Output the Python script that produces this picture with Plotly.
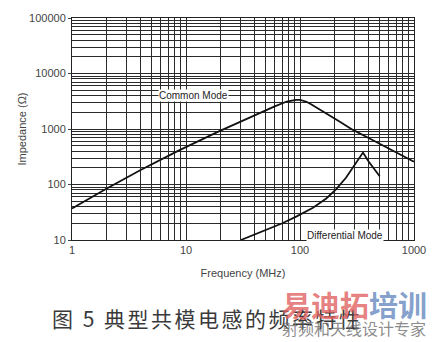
import numpy as np
import plotly.graph_objects as go

# Common mode impedance curve (MHz, Ohm)
cm_freq = [1, 2, 4, 8.6, 19, 40, 60, 76.6, 85, 92, 100, 107, 114, 125, 140, 170, 220, 289, 400, 600, 1000]
cm_imp = [37, 84, 182, 408, 885, 1770, 2550, 3130, 3280, 3340, 3340, 3260, 3100, 2800, 2450, 1900, 1380, 973, 690, 440, 258]

# Differential mode impedance curve (MHz, Ohm)
dm_freq = [30.3, 40, 51.5, 70, 93.5, 130, 170, 207, 253, 298, 330, 357, 400, 450, 500]
dm_imp = [10, 12.6, 15.5, 20, 26.6, 38, 56, 82, 132, 212, 290, 376, 260, 190, 141]

x_ticks = [1, 10, 100, 1000]
y_ticks = [10, 100, 1000, 10000, 100000]

caption = "图 5 典型共模电感的频率特性"

fig = go.Figure()
fig.add_trace(go.Scatter(x=cm_freq, y=cm_imp, mode="lines",
                         line=dict(color="#111111", width=1.8),
                         showlegend=False, hoverinfo="skip"))
fig.add_trace(go.Scatter(x=dm_freq, y=dm_imp, mode="lines",
                         line=dict(color="#111111", width=1.8),
                         showlegend=False, hoverinfo="skip"))

grid_col = "#2a2a2a"
fig.update_xaxes(type="log", range=[0, 3], tickvals=x_ticks, ticktext=[str(v) for v in x_ticks],
                 showgrid=True, gridcolor=grid_col, gridwidth=1,
                 minor=dict(dtick="D1", showgrid=True, gridcolor=grid_col, gridwidth=1, ticks=""),
                 showline=True, linecolor="#222", linewidth=1, mirror=True,
                 ticks="", tickfont=dict(family="Liberation Sans, Arial", size=11, color="#444"),
                 title=dict(text="Frequency (MHz)", font=dict(family="Liberation Sans, Arial", size=11, color="#444"),
                            standoff=14),
                 zeroline=False)
fig.update_yaxes(type="log", range=[1, 5], tickvals=y_ticks, ticktext=[str(v) for v in y_ticks],
                 showgrid=True, gridcolor=grid_col, gridwidth=1,
                 minor=dict(dtick="D1", showgrid=True, gridcolor=grid_col, gridwidth=1, ticks=""),
                 showline=True, linecolor="#222", linewidth=1, mirror=True,
                 ticks="outside", ticklen=3, tickcolor="#444",
                 tickfont=dict(family="Liberation Sans, Arial", size=11, color="#444"),
                 title=dict(text="Impedance (Ω)", font=dict(family="Liberation Sans, Arial", size=11, color="#444"),
                            standoff=0),
                 zeroline=False)

fig.add_annotation(x=np.log10(11.6), y=np.log10(4000), xref="x", yref="y", text="Common Mode",
                   showarrow=False, bgcolor="white", borderpad=0,
                   font=dict(family="Liberation Sans, Arial", size=10, color="#222"))
fig.add_annotation(x=np.log10(248), y=np.log10(12.0), xref="x", yref="y", text="Differential Mode",
                   showarrow=False, bgcolor="white", borderpad=0,
                   font=dict(family="Liberation Sans, Arial", size=10, color="#222"))

# caption
fig.add_annotation(xref="paper", yref="paper", x=(50 - 72) / 347, y=-(319 - 240) / 226,
                   text="<span style='letter-spacing:2.5px'>" + caption + "</span>",
                   showarrow=False, xanchor="left", yanchor="middle",
                   font=dict(family="Noto Sans CJK SC", size=21, color="#3a3a3a"))
# watermark
fig.add_annotation(xref="paper", yref="paper", x=(283 - 72) / 347, y=-(305 - 240) / 226,
                   text="<b><span style='color:rgba(225,95,95,0.8)'>易迪拓</span>"
                        "<span style='color:rgba(100,135,190,0.8)'>培训</span></b>",
                   showarrow=False, xanchor="left", yanchor="middle",
                   font=dict(family="Noto Sans CJK SC", size=29))
fig.add_annotation(xref="paper", yref="paper", x=(283 - 72) / 347, y=-(330 - 240) / 226,
                   text="射频和天线设计专家", showarrow=False, xanchor="left", yanchor="middle",
                   font=dict(family="Noto Sans CJK SC", size=16, color="rgba(110,110,110,0.8)"))

fig.update_layout(width=438, height=342, margin=dict(l=72, r=19, t=14, b=102),
                  paper_bgcolor="white", plot_bgcolor="white")
fig.write_html("out.html")
